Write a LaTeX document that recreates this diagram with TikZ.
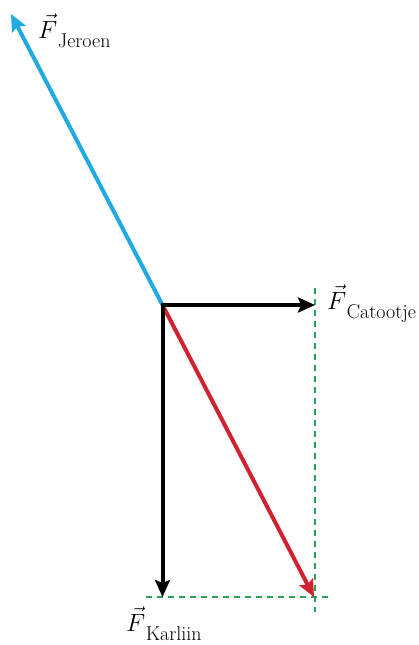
\documentclass[tikz,border=0pt]{standalone}
\usetikzlibrary{arrows.meta}
\definecolor{jblue}{RGB}{32,170,226}
\definecolor{kred}{RGB}{208,34,48}
\definecolor{dgreen}{RGB}{40,160,90}
\newcommand{\flabel}[1]{{\fontsize{24}{26}\selectfont$\vec{F}$}\kern0.5pt\raisebox{-9pt}{\fontsize{20}{22}\selectfont #1}}
\tikzset{
  force/.style={line width=4pt,-{Stealth[length=17pt,width=15pt,inset=3pt]}},
  guide/.style={dgreen,line width=1.3pt,dash pattern=on 6pt off 5pt},
  lbl/.style={inner sep=0pt,anchor=base west}
}
\begin{document}
\begin{tikzpicture}[x=1pt,y=-1pt]
\useasboundingbox (0,0) rectangle (419,645);
\coordinate (O) at (162.5,305);
\coordinate (C) at (315,305);
\coordinate (K) at (162.5,597);
\coordinate (R) at (314,597);
\coordinate (J) at (11,14);
\coordinate (gv1) at (315,288);
\coordinate (gv2) at (315,612);
\coordinate (gh1) at (146,597);
\coordinate (gh2) at (329,597);
\draw[guide] (gv1) -- (gv2);
\draw[guide] (gh1) -- (gh2);
\draw[force,jblue] (O) -- (J);
\draw[force,kred] (O) -- (R);
\draw[force,black] ([xshift=-2pt]O) -- (C);
\draw[force,black] ([yshift=-2pt]O) -- (K);
\node[lbl] (lj) at (38,38) {\flabel{Jeroen}};
\node[lbl] (lc) at (327,309) {\flabel{Catootje}};
\node[lbl] (lk) at (126,631) {\flabel{Karliin}};
\end{tikzpicture}
\end{document}
